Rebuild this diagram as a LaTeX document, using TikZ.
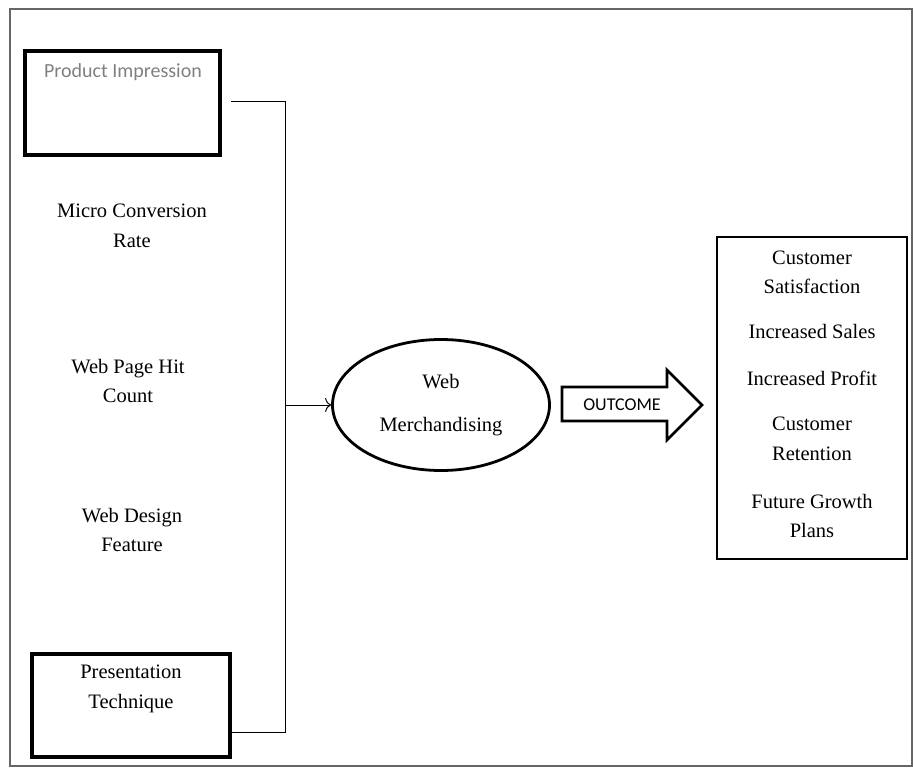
\documentclass[tikz,border=0pt]{standalone}
\usepackage{fontspec}
\setmainfont{Liberation Serif}
\newfontfamily\calibfont{Carlito}
\usetikzlibrary{shapes.geometric,arrows.meta}

\tikzset{
  bigbox/.style={draw, line width=4pt, inner sep=0pt},
  outbox/.style={draw, line width=2.8pt, inner sep=0pt},
  item/.style={align=center, font=\fontsize{20.5}{29.5}\selectfont},
  wire/.style={line width=1pt},
}

\begin{document}
\begin{tikzpicture}[x=1pt, y=-1pt]
    \useasboundingbox (0,0) rectangle (913,769);
    \draw[gray!80!black, line width=1.5pt] (10,9) rectangle (912,766);

    % left column
    \node[bigbox, minimum width=195pt, minimum height=104pt] (impr) at (122.5,103) {};
    \node[font=\calibfont\fontsize{20}{24}\selectfont, text=gray] (imprtext) at (123,72) {Product Impression};
    \node[item] (micro) at (132,226) {Micro Conversion\\Rate};
    \node[item] (hits) at (128,381) {Web Page Hit\\Count};
    \node[item] (design) at (132,530) {Web Design\\Feature};
    \node[bigbox, minimum width=198pt, minimum height=103pt] (techbox) at (131,705.5) {};
    \node[item] (tech) at (131,689) {Presentation\\Technique};

    % joining line
    \coordinate (jbot) at (285,732);
    \coordinate (jmid) at (285,405);
    \draw[wire] ([shift={(9,-2)}]impr.east) -| (jbot) -- ([shift={(0,26.5)}]techbox.east);

    \node[ellipse, outbox, minimum width=217pt, minimum height=131pt, item] (web) at (441,405) {Web\\[13pt]Merchandising};
    \draw[wire,-{To[length=6pt,width=14pt]}] (jmid) -- (web.west);

    % outcome arrow
    \draw[outbox, line join=miter] (562,387) -- (667,387) -- (667,370) -- (702,405) -- (667,440) -- (667,421) -- (562,421) -- cycle;
    \node[font=\calibfont\fontsize{18}{22}\selectfont] (outcome) at (622,405) {OUTCOME};

    % right column
    \node[outbox, minimum width=190pt, minimum height=322pt] (effects) at (812,398) {};
    \node[item] (satisf) at (812,272.5) {Customer\\Satisfaction};
    \node[item] (sales) at (812,331) {Increased Sales};
    \node[item] (profit) at (812,378) {Increased Profit};
    \node[item] (retain) at (812,439) {Customer\\Retention};
    \node[item] (growth) at (812,516) {Future Growth\\Plans};
\end{tikzpicture}
\end{document}
